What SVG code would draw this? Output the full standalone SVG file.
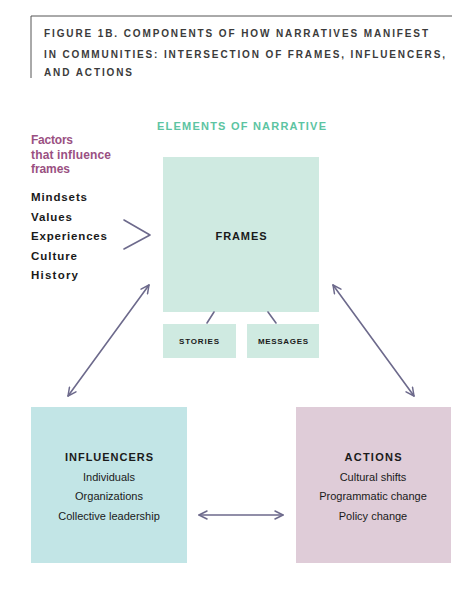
<svg xmlns="http://www.w3.org/2000/svg" width="472" height="614" viewBox="0 0 472 614">
<style>
text{font-family:"Liberation Sans",Arial,sans-serif}
.title{font-size:10px;font-weight:bold;fill:#3b3b3b}
.hdr{font-size:11px;font-weight:bold;fill:#1a1a1a}
.small{font-size:8px;font-weight:bold;fill:#1a1a1a}
.item{font-size:11px;fill:#1a1a1a}
.factor{font-size:11.5px;font-weight:bold;fill:#1a1a1a}
.purple{font-size:12px;font-weight:bold;fill:#9a5082}
.green{font-size:11px;font-weight:bold;fill:#5cc4a2}
.conn{stroke:#6d6a8c;stroke-width:1.6;fill:none;stroke-linecap:round;stroke-linejoin:round}
</style>
<defs>
<marker id="ah" viewBox="0 0 10 10" refX="9" refY="5" markerWidth="10" markerHeight="10" markerUnits="userSpaceOnUse" orient="auto-start-reverse">
<path d="M1,1 L9,5 L1,9" fill="none" stroke="#6d6a8c" stroke-width="1.5" stroke-linecap="round" stroke-linejoin="round"/>
</marker>
</defs>
<rect width="472" height="614" fill="#ffffff"/>
<g id="title">
<path d="M452,16 H31 V78" fill="none" stroke="#555" stroke-width="1"/>
<text class="title" x="44" y="37" textLength="384" lengthAdjust="spacing">FIGURE 1B. COMPONENTS OF HOW NARRATIVES MANIFEST</text>
<text class="title" x="44" y="58" textLength="401" lengthAdjust="spacing">IN COMMUNITIES: INTERSECTION OF FRAMES, INFLUENCERS,</text>
<text class="title" x="44" y="76" textLength="88" lengthAdjust="spacing">AND ACTIONS</text>
</g>
<text class="green" x="157" y="130" textLength="169" lengthAdjust="spacing">ELEMENTS OF NARRATIVE</text>
<g id="factors">
<text class="purple" x="31" y="144" textLength="42" lengthAdjust="spacing">Factors</text>
<text class="purple" x="31" y="159" textLength="80" lengthAdjust="spacing">that influence</text>
<text class="purple" x="31" y="173" textLength="39" lengthAdjust="spacing">frames</text>
<text class="factor" x="31" y="201" textLength="56" lengthAdjust="spacing">Mindsets</text>
<text class="factor" x="31" y="221" textLength="41" lengthAdjust="spacing">Values</text>
<text class="factor" x="31" y="240" textLength="76" lengthAdjust="spacing">Experiences</text>
<text class="factor" x="31" y="260" textLength="46" lengthAdjust="spacing">Culture</text>
<text class="factor" x="31" y="279" textLength="47" lengthAdjust="spacing">History</text>
</g>
<g id="frames">
<rect x="163" y="157" width="156" height="155" fill="#cfeae1"/>
<text class="hdr" x="241" y="240" text-anchor="middle" textLength="51" lengthAdjust="spacing">FRAMES</text>
</g>
<g id="stories">
<rect x="163" y="324" width="73" height="34" fill="#cfeae1"/>
<text class="small" x="199" y="344" text-anchor="middle" textLength="40" lengthAdjust="spacing">STORIES</text>
</g>
<g id="messages">
<rect x="247" y="324" width="72" height="34" fill="#cfeae1"/>
<text class="small" x="283" y="344" text-anchor="middle" textLength="50" lengthAdjust="spacing">MESSAGES</text>
</g>
<g id="influencers">
<rect x="31" y="407" width="156" height="156" fill="#c2e5e6"/>
<text class="hdr" x="109" y="461" text-anchor="middle" textLength="88" lengthAdjust="spacing">INFLUENCERS</text>
<text class="item" x="109" y="481" text-anchor="middle">Individuals</text>
<text class="item" x="109" y="500" text-anchor="middle">Organizations</text>
<text class="item" x="109" y="520" text-anchor="middle">Collective leadership</text>
</g>
<g id="actions">
<rect x="296" y="407" width="155" height="156" fill="#dfccd8"/>
<text class="hdr" x="373" y="461" text-anchor="middle" textLength="57" lengthAdjust="spacing">ACTIONS</text>
<text class="item" x="373" y="481" text-anchor="middle">Cultural shifts</text>
<text class="item" x="373" y="500" text-anchor="middle">Programmatic change</text>
<text class="item" x="373" y="520" text-anchor="middle">Policy change</text>
</g>
<g id="connectors">
<path class="conn" d="M124,220 L150,235 L124,249"/>
<line class="conn" x1="214" y1="312" x2="207" y2="323"/>
<line class="conn" x1="268" y1="312" x2="276" y2="323"/>
<line class="conn" x1="149" y1="285" x2="68" y2="396" marker-start="url(#ah)" marker-end="url(#ah)"/>
<line class="conn" x1="333" y1="285" x2="414" y2="396" marker-start="url(#ah)" marker-end="url(#ah)"/>
<line class="conn" x1="199" y1="515" x2="283" y2="515" marker-start="url(#ah)" marker-end="url(#ah)"/>
</g>
</svg>
